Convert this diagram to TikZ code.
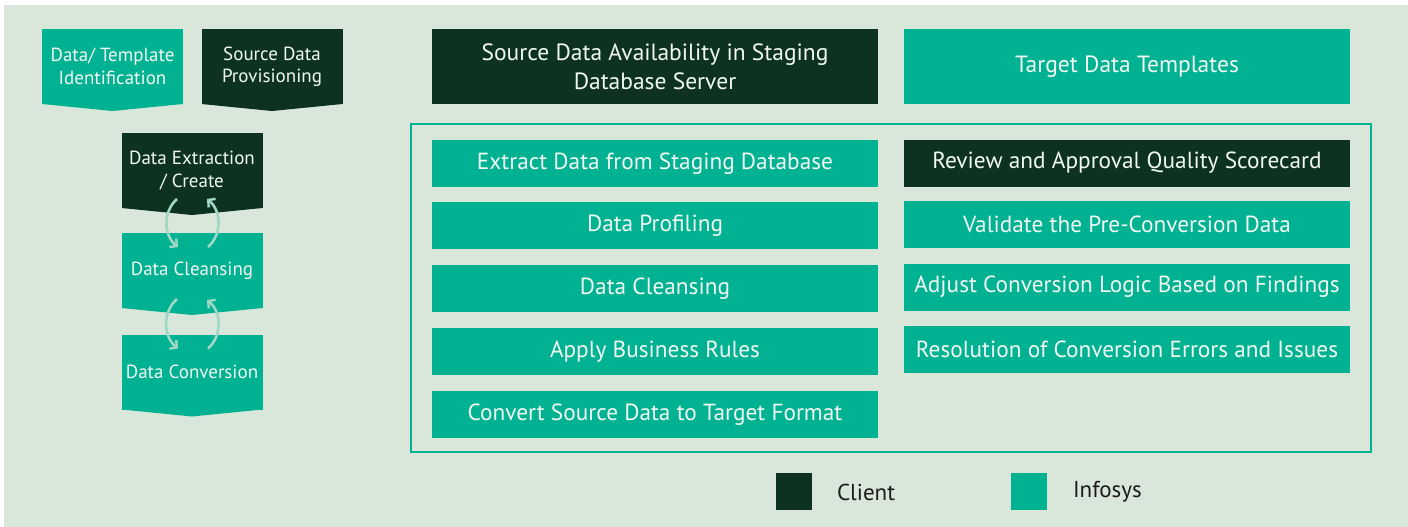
\documentclass[tikz,border=0pt]{standalone}
\usepackage{fontspec}
\setmainfont{PT Sans}
\usetikzlibrary{calc,arrows.meta}
\definecolor{panel}{HTML}{D9E6DA}
\definecolor{infoteal}{HTML}{00B192}
\definecolor{clientdark}{HTML}{0D3320}
\definecolor{cyclecol}{HTML}{9FD8C6}
\definecolor{boxtext}{HTML}{F2F8F2}
\definecolor{legtext}{HTML}{1A1A1A}
\begin{document}
\begin{tikzpicture}[x=1pt,y=-1pt,
  every node/.style={inner sep=0pt, outer sep=0pt},
  phase/.style={minimum width=141pt, minimum height=75pt, text=boxtext,
    align=center, font=\fontsize{19}{22.5}\selectfont},
  wide/.style={minimum width=446pt, minimum height=75pt, text=boxtext,
    align=center, font=\fontsize{23.5}{29}\selectfont},
  task/.style={minimum width=446pt, minimum height=47pt, text=boxtext,
    font=\fontsize{23.3}{28}\selectfont},
  swatch/.style={minimum width=36pt, minimum height=37pt},
  legendlabel/.style={anchor=west, text=legtext, font=\fontsize{23}{28}\selectfont},
  cyc/.style={draw=cyclecol, line width=2.6pt,
    -{Straight Barb[length=5pt,width=11pt,line width=2.4pt]}}
]
% canvas and light panel
\useasboundingbox (0,0) rectangle (1408,527);
\fill[white] (0,0) rectangle (1408,527);
\fill[panel] (4,5) rectangle (1408,527);

% left column: phase chevrons
\node[phase, fill=infoteal]   (dti) at (112.5,66.5) {Data/ Template\\Identification};
\node[phase, fill=clientdark] (sdp) at (272,66.5)   {Source Data\\Provisioning};
\node[phase, fill=clientdark] (ext) at (192,170.5)  {Data Extraction\\/ Create};
\node[phase, fill=infoteal]   (cln) at (192,270.5)  {Data Cleansing};
\node[phase, fill=infoteal]   (cnv) at (192,372)    {Data Conversion};
\foreach \n/\c in {dti/infoteal, sdp/clientdark, ext/clientdark, cln/infoteal, cnv/infoteal}
  \fill[\c] (\n.south west) -- (\n.south east) -- ($(\n.south)+(0,7)$) -- cycle;

% iteration arrows between phases
\draw[cyc] ($(ext.south)+(-15,-9)$) to[bend right=50] ($(cln.north)+(-14,14)$);
\draw[cyc] ($(cln.north)+(16,14)$) to[bend right=50] ($(ext.south)+(15,-9)$);
\draw[cyc] ($(cln.south)+(-15,-9)$) to[bend right=50] ($(cnv.north)+(-14,14)$);
\draw[cyc] ($(cnv.north)+(16,14)$) to[bend right=50] ($(cln.south)+(15,-8)$);

% right side: inputs
\node[wide, fill=clientdark] (sda) at (655,66.5)  {Source Data Availability in Staging\\Database Server};
\node[wide, fill=infoteal]   (tdt) at (1127,66.5) {Target Data Templates};

% activity frame
\node[draw=infoteal, line width=2pt, minimum width=960pt, minimum height=328pt] (frame) at (891,288) {};

% activities, left column
\node[task, fill=infoteal] (t1) at (655,163.5) {Extract Data from Staging Database};
\node[task, fill=infoteal] (t2) at (655,225.5) {Data Profiling};
\node[task, fill=infoteal] (t3) at (655,288.5) {Data Cleansing};
\node[task, fill=infoteal] (t4) at (655,351.5) {Apply Business Rules};
\node[task, fill=infoteal] (t5) at (655,414.5) {Convert Source Data to Target Format};

% activities, right column
\node[task, fill=clientdark] (r1) at (1127,163)  {Review and Approval Quality Scorecard};
\node[task, fill=infoteal]   (r2) at (1127,224.5) {Validate the Pre-Conversion Data};
\node[task, fill=infoteal]   (r3) at (1127,287) {Adjust Conversion Logic Based on Findings};
\node[task, fill=infoteal]   (r4) at (1127,349.5) {Resolution of Conversion Errors and Issues};

% legend
\node[swatch, fill=clientdark] (lc) at (794,491.5) {};
\node[legendlabel] (lct) at (837,492) {Client};
\node[swatch, fill=infoteal] (li) at (1029,491.5) {};
\node[legendlabel] (lit) at (1073,492) {Infosys};
\end{tikzpicture}
\end{document}
